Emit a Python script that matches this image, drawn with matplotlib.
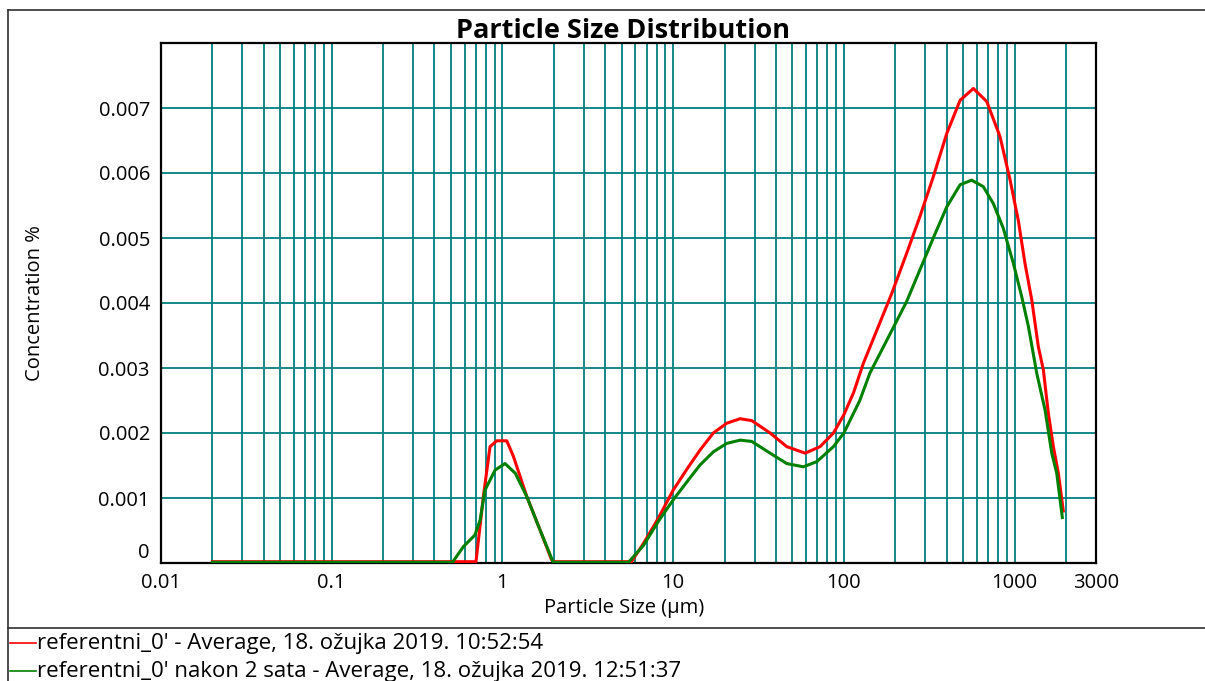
import numpy as np
import matplotlib
matplotlib.use("Agg")
import matplotlib.pyplot as plt
from matplotlib.lines import Line2D

plt.rcParams['font.family'] = ['Open Sans', 'DejaVu Sans']

# readings (size in um, concentration in %)
size_red = [0.02, 0.7, 0.773, 0.846, 0.926, 1.06, 1.16, 1.39, 1.66, 1.94, 2.0, 5.7,
            6.7, 8.19, 10.0, 12.3, 14.4, 17.2, 20.6, 24.7, 28.9, 37.0, 46.3, 59.3,
            72.6, 86.9, 100, 114, 130, 156, 191, 233, 279, 334, 401, 480, 574, 687,
            822, 942, 1052, 1151, 1261, 1378, 1475, 1578, 1688, 1806, 1930]
conc_red = [0.00002, 0.00002, 0.00102, 0.00179, 0.00188, 0.00188, 0.00164, 0.00102,
            0.00051, 0.00005, 0.00002, 0.00002, 0.00030, 0.00069, 0.00112, 0.00148,
            0.00174, 0.00200, 0.00215, 0.00222, 0.00219, 0.00200, 0.00179, 0.00169,
            0.00179, 0.00200, 0.00228, 0.00262, 0.00307, 0.00358, 0.00415, 0.00476,
            0.00533, 0.00594, 0.00661, 0.00712, 0.00730, 0.00710, 0.00656, 0.00589,
            0.00527, 0.00461, 0.00405, 0.00333, 0.00297, 0.00230, 0.00179, 0.00138,
            0.00080]

size_green = [0.02, 0.51, 0.59, 0.69, 0.74, 0.79, 0.906, 1.036, 1.19, 1.39, 1.66, 1.97,
              2.0, 5.47, 6.7, 8.19, 10.0, 12.3, 14.4, 17.2, 20.6, 24.7, 28.9, 37.0,
              46.3, 57.9, 69.5, 86.9, 100, 124, 142, 187, 233, 279, 334, 401, 480,
              561, 656, 751, 859, 984, 1101, 1205, 1349, 1510, 1652, 1767, 1905]
conc_green = [0.00001, 0.00001, 0.00025, 0.00043, 0.00066, 0.00112, 0.00143, 0.00153,
              0.00138, 0.00102, 0.00051, 0.00003, 0.00001, 0.00001, 0.00027, 0.00064,
              0.00097, 0.00128, 0.00151, 0.00171, 0.00184, 0.00189, 0.00187, 0.00169,
              0.00153, 0.00148, 0.00156, 0.00179, 0.00200, 0.00250, 0.00292, 0.00353,
              0.00402, 0.00451, 0.00500, 0.00548, 0.00582, 0.00589, 0.00579, 0.00553,
              0.00515, 0.00461, 0.00410, 0.00364, 0.00292, 0.00235, 0.00169, 0.00138,
              0.00070]

x_ticks = [0.01, 0.1, 1, 10, 100, 1000, 3000]
x_tick_labels = ['0.01', '0.1', '1', '10', '100', '1000', '3000']
y_ticks = [0, 0.001, 0.002, 0.003, 0.004, 0.005, 0.006, 0.007]
y_tick_labels = ['0', '0.001', '0.002', '0.003', '0.004', '0.005', '0.006', '0.007']

legend_labels = ["referentni_0' - Average, 18. ožujka 2019. 10:52:54",
                 "referentni_0' nakon 2 sata - Average, 18. ožujka 2019. 12:51:37"]

W, H = 1205, 681
fig = plt.figure(figsize=(W / 100, H / 100), dpi=100)

def fx(px):
    return px / W

def fy(py):
    return 1 - py / H

ax = fig.add_axes([fx(161), fy(563), fx(1096) - fx(161), fy(43) - fy(563)])
ax.set_xscale('log')
ax.set_xlim(0.01, 3000)
ax.set_ylim(0, 0.008)

# grid: every k*10^n from 0.02 to 2000, y every 0.001
grid_x = [k * 10.0 ** n for n in range(-2, 4) for k in range(1, 10)]
grid_x = [g for g in grid_x if 0.019 < g < 2001]
teal = '#008080'
for g in grid_x:
    ax.axvline(g, color=teal, lw=1.3, zorder=1)
for g in y_ticks[1:]:
    ax.axhline(g, color=teal, lw=1.3, zorder=1)

ax.plot(size_red, conc_red, color='#ff0000', lw=2.2, zorder=3)
ax.plot(size_green, conc_green, color='#008000', lw=2.2, zorder=3)

ax.set_xticks(x_ticks)
ax.set_xticklabels(x_tick_labels)
ax.xaxis.set_minor_locator(matplotlib.ticker.NullLocator())
ax.set_yticks(y_ticks)
ax.set_yticklabels(y_tick_labels)
ax.tick_params(length=0, labelsize=14.5, colors='black')
ax.tick_params(axis='x', pad=7)
ax.tick_params(axis='y', pad=8)
# the zero label sits a bit higher so it does not run into "0.01"
ax.get_yticklabels()[0].set_va('bottom')
for s in ax.spines.values():
    s.set_color('black')
    s.set_linewidth(1.6)

fig.text(fx(623), fy(31), 'Particle Size Distribution', ha='center', va='center',
         fontsize=19.5, fontweight='bold')
fig.text(fx(624), fy(608), 'Particle Size (µm)', ha='center', va='center', fontsize=14.5)
fig.text(fx(35), fy(303), 'Concentration %', ha='center', va='center',
         rotation=90, fontsize=14.5)

# outer frame and legend area
frame = dict(color='#303030', lw=1.2, transform=fig.transFigure)
fig.add_artist(Line2D([fx(8), 1], [fy(10), fy(10)], **frame))
fig.add_artist(Line2D([fx(8), fx(8)], [0, fy(10)], **frame))
fig.add_artist(Line2D([fx(8), 1], [fy(628), fy(628)], **frame))

for i, (lab, col) in enumerate(zip(legend_labels, ['#ff0000', '#008000'])):
    yy = 643 + i * 28
    fig.add_artist(Line2D([fx(10), fx(36)], [fy(yy), fy(yy)], color=col, lw=1.2,
                          transform=fig.transFigure))
    fig.text(fx(37), fy(yy), lab, ha='left', va='center', fontsize=16)

fig.savefig('out.png', dpi=100)
